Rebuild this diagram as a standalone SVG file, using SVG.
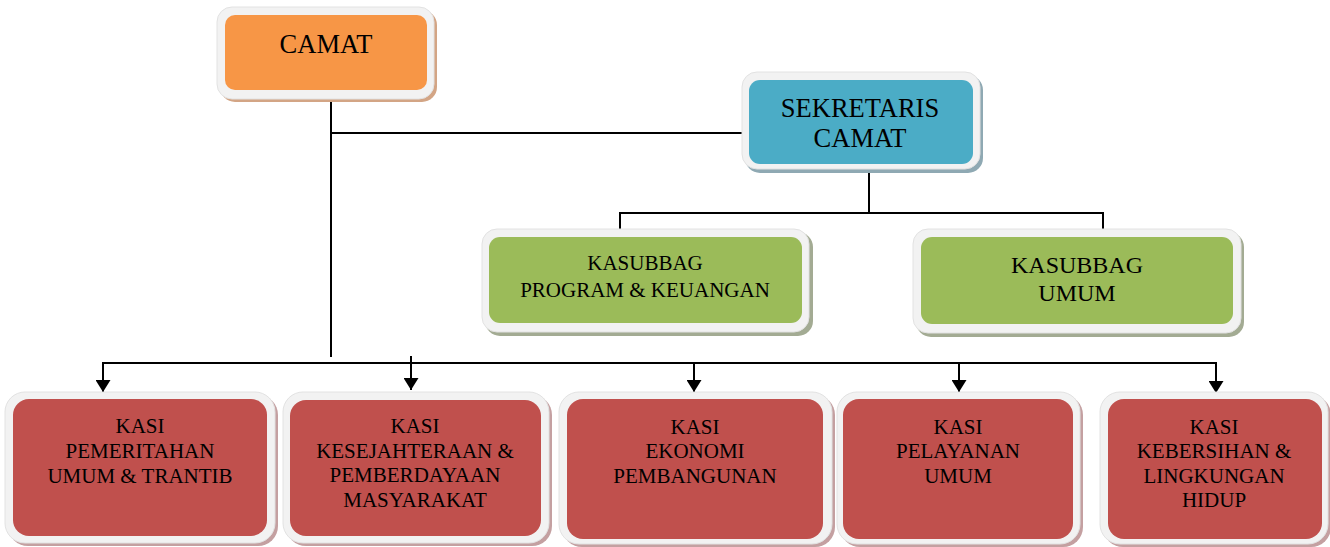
<svg xmlns="http://www.w3.org/2000/svg" width="1330" height="547" viewBox="0 0 1330 547">
  <style>
    .frame { fill: #f2f2f2; stroke: #e2e2e2; stroke-width: 1; }
    .t { font-family: "Liberation Serif", "Times New Roman", serif; fill: #000; text-anchor: middle; }
    .big { font-size: 26.5px; }
    .mid { font-size: 24px; }
    .sm { font-size: 21px; }
    .line { stroke: #000; stroke-width: 2; fill: none; }
    .orange { fill: #f79646; }
    .blue { fill: #4bacc6; }
    .green { fill: #9bbb59; }
    .red { fill: #c0504d; }
  </style>
  <defs>
    <marker id="arr" viewBox="0 0 12 15" refX="12" refY="7.5" markerWidth="12" markerHeight="15" markerUnits="userSpaceOnUse" orient="auto">
      <path d="M0,0 L12,7.5 L0,15 z" fill="#000"/>
    </marker>
  </defs>

  <g id="connectors">
    <path class="line" d="M331,95 V357"/>
    <path class="line" d="M331,133 H743"/>
    <path class="line" d="M869,166 V213"/>
    <path class="line" d="M620,213 H1103"/>
    <path class="line" d="M620,212 V230"/>
    <path class="line" d="M1103,212 V230"/>
    <path class="line" d="M103,363 H1216"/>
    <path class="line" d="M103,362 V392" marker-end="url(#arr)"/>
    <path class="line" d="M411,356 V390" marker-end="url(#arr)"/>
    <path class="line" d="M694,362 V392" marker-end="url(#arr)"/>
    <path class="line" d="M959,362 V392" marker-end="url(#arr)"/>
    <path class="line" d="M1216,362 V393" marker-end="url(#arr)"/>
  </g>

  <g id="camat">
    <rect x="220" y="10" width="217" height="92" rx="15" fill="#d3a585"/>
    <rect class="frame" x="217" y="7" width="217" height="92" rx="15"/>
    <rect class="orange" x="225" y="15" width="202" height="75" rx="10"/>
    <text class="t big" x="326" y="53">CAMAT</text>
  </g>

  <g id="sekretaris">
    <rect x="745" y="75" width="238" height="98" rx="15" fill="#8fa9b3"/>
    <rect class="frame" x="742" y="72" width="238" height="97" rx="15"/>
    <rect class="blue" x="749" y="80" width="224" height="84" rx="11"/>
    <text class="t big" x="860" y="117">SEKRETARIS</text>
    <text class="t big" x="860" y="147">CAMAT</text>
  </g>

  <g id="kasubbag-program">
    <rect x="485" y="232" width="328" height="104" rx="15" fill="#a3ab93"/>
    <rect class="frame" x="482" y="229" width="327" height="103" rx="15"/>
    <rect class="green" x="489" y="237" width="313" height="86" rx="11"/>
    <text class="t sm" x="645" y="270">KASUBBAG</text>
    <text class="t sm" x="645" y="297">PROGRAM &amp; KEUANGAN</text>
  </g>

  <g id="kasubbag-umum">
    <rect x="916" y="232" width="328" height="105" rx="15" fill="#a3ab93"/>
    <rect class="frame" x="913" y="229" width="328" height="104" rx="15"/>
    <rect class="green" x="921" y="237" width="312" height="87" rx="11"/>
    <text class="t mid" x="1077" y="273">KASUBBAG</text>
    <text class="t mid" x="1077" y="301">UMUM</text>
  </g>

  <g id="kasi-pemerintahan">
    <rect x="8" y="395" width="270" height="151" rx="20" fill="#c4a0a1"/>
    <rect class="frame" x="5" y="392" width="270" height="151" rx="20"/>
    <rect class="red" x="13" y="399" width="254" height="137" rx="16"/>
    <text class="t sm" x="140" y="433">KASI</text>
    <text class="t sm" x="140" y="458">PEMERITAHAN</text>
    <text class="t sm" x="140" y="483">UMUM &amp; TRANTIB</text>
  </g>

  <g id="kasi-kesejahteraan">
    <rect x="286" y="395" width="266" height="151" rx="20" fill="#c4a0a1"/>
    <rect class="frame" x="283" y="392" width="266" height="151" rx="20"/>
    <rect class="red" x="290" y="400" width="251" height="136" rx="16"/>
    <text class="t sm" x="415" y="433">KASI</text>
    <text class="t sm" x="415" y="458">KESEJAHTERAAN &amp;</text>
    <text class="t sm" x="415" y="482">PEMBERDAYAAN</text>
    <text class="t sm" x="415" y="507">MASYARAKAT</text>
  </g>

  <g id="kasi-ekonomi">
    <rect x="562" y="395" width="273" height="152" rx="20" fill="#c4a0a1"/>
    <rect class="frame" x="559" y="392" width="273" height="152" rx="20"/>
    <rect class="red" x="567" y="399" width="256" height="140" rx="16"/>
    <text class="t sm" x="695" y="434">KASI</text>
    <text class="t sm" x="695" y="458">EKONOMI</text>
    <text class="t sm" x="695" y="483">PEMBANGUNAN</text>
  </g>

  <g id="kasi-pelayanan">
    <rect x="840" y="395" width="243" height="152" rx="20" fill="#c4a0a1"/>
    <rect class="frame" x="837" y="392" width="243" height="152" rx="20"/>
    <rect class="red" x="843" y="399" width="230" height="140" rx="16"/>
    <text class="t sm" x="958" y="434">KASI</text>
    <text class="t sm" x="958" y="458">PELAYANAN</text>
    <text class="t sm" x="958" y="483">UMUM</text>
  </g>

  <g id="kasi-kebersihan">
    <rect x="1103" y="395" width="228" height="152" rx="20" fill="#c4a0a1"/>
    <rect class="frame" x="1100" y="392" width="228" height="152" rx="20"/>
    <rect class="red" x="1108" y="399" width="214" height="140" rx="16"/>
    <text class="t sm" x="1214" y="434">KASI</text>
    <text class="t sm" x="1214" y="458">KEBERSIHAN &amp;</text>
    <text class="t sm" x="1214" y="483">LINGKUNGAN</text>
    <text class="t sm" x="1214" y="507">HIDUP</text>
  </g>
</svg>
